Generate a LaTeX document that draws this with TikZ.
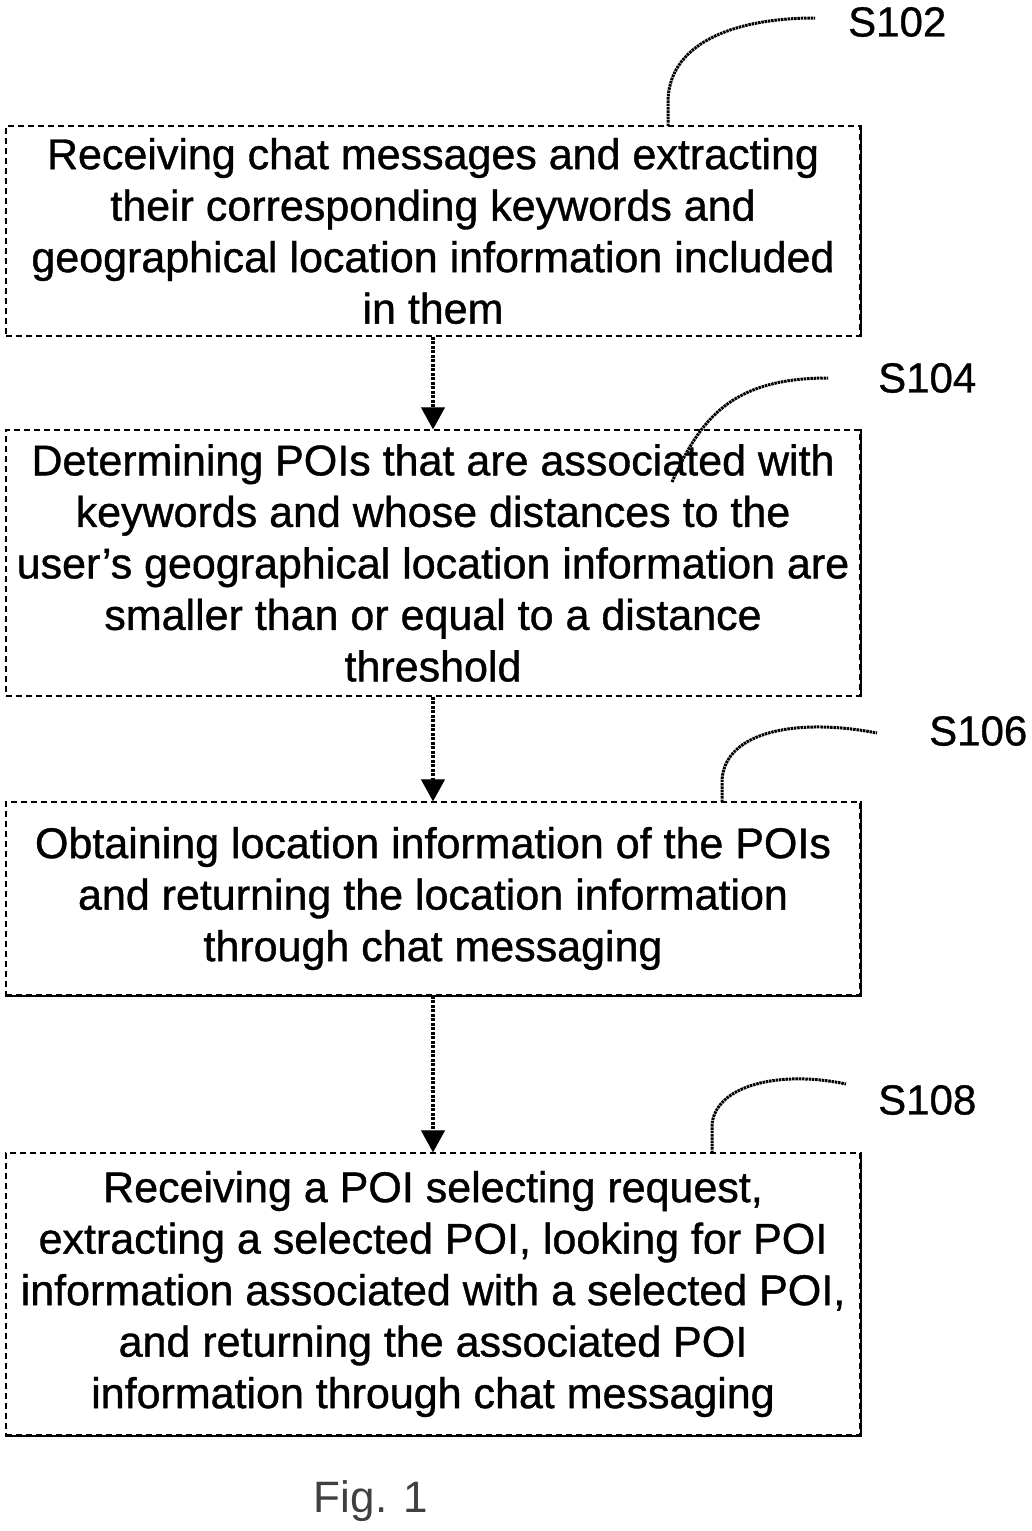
\documentclass[tikz,border=0pt]{standalone}
\usepackage{fontspec}
\setmainfont{Liberation Sans}[BoldFont={Liberation Sans},BoldFeatures={FakeBold=0.9}]
\usetikzlibrary{arrows.meta}
\begin{document}
\begin{tikzpicture}[x=1pt,y=-1pt,
  stepbox/.style={draw, line width=1.4pt, dash pattern=on 6pt off 4pt, minimum width=854pt, inner sep=0pt, align=center, font=\fontsize{43}{51.5}\selectfont\bfseries},
  solidedge/.style={draw, line width=1.6pt},
  flow/.style={line width=4pt, dash pattern=on 3pt off 1.5pt, -{Triangle[width=24pt,length=22pt,line width=1pt]}},
  leader/.style={line width=3pt, dash pattern=on 2.5pt off 0.8pt},
  lbl/.style={font=\fontsize{42}{48}\selectfont\bfseries, inner sep=0pt},
]
\useasboundingbox (0,0) rectangle (1032,1531);
\node[stepbox, minimum height=210pt] (b1) at (433,231) {Receiving chat messages and extracting\\their corresponding keywords and\\geographical location information included\\in them};
\node[stepbox, minimum height=266pt] (b2) at (433,563) {Determining POIs that are associated with\\keywords and whose distances to the\\user’s geographical location information are\\smaller than or equal to a distance\\threshold};
\node[stepbox, minimum height=193pt] (b3) at (433,898.5) {Obtaining location information of the POIs\\and returning the location information\\through chat messaging};
\node[stepbox, minimum height=282pt] (b4) at (433,1294) {Receiving a POI selecting request,\\extracting a selected POI, looking for POI\\information associated with a selected POI,\\and returning the associated POI\\information through chat messaging};
% solid edges
\draw[solidedge] (b1.north east) -- (b1.south east);
\draw[solidedge] (b2.north east) -- (b2.south east);
\draw[solidedge] (b3.north east) -- (b3.south east) -- (b3.south west);
\draw[solidedge] (b4.north east) -- (b4.south east) -- (b4.south west);
% flow arrows
\draw[flow] (b1.south) -- (b2.north);
\draw[flow] (b2.south) -- (b3.north);
\draw[flow] (b3.south) -- (b4.north);
% labels
\node[lbl, anchor=west] (l1) at (848,22) {S102};
\node[lbl, anchor=west] (l2) at (878,378) {S104};
\node[lbl, anchor=west] (l3) at (929,731) {S106};
\node[lbl, anchor=west] (l4) at (878,1100) {S108};
\coordinate (e1) at (815,18);
\coordinate (s1) at (668,126);
\coordinate (e2) at (828,378);
\coordinate (s2) at (672,482);
\coordinate (e3) at (877,733);
\coordinate (s3) at (722,802);
\coordinate (e4) at (846,1084);
\coordinate (s4) at (712,1153);
\draw[leader] (s1) -- (668,100) .. controls (670,40) and (740,18) .. (e1);
\draw[leader] (s2) .. controls (700,420) and (730,378) .. (e2);
\draw[leader] (s3) -- (722,780) .. controls (725,730) and (800,718) .. (e3);
\draw[leader] (s4) -- (712,1125) .. controls (715,1085) and (780,1070) .. (e4);
% caption
\node[font=\fontsize{44}{50}\selectfont, text=black!75, inner sep=0pt] (cap) at (371,1501) {Fig. 1};
\end{tikzpicture}
\end{document}
